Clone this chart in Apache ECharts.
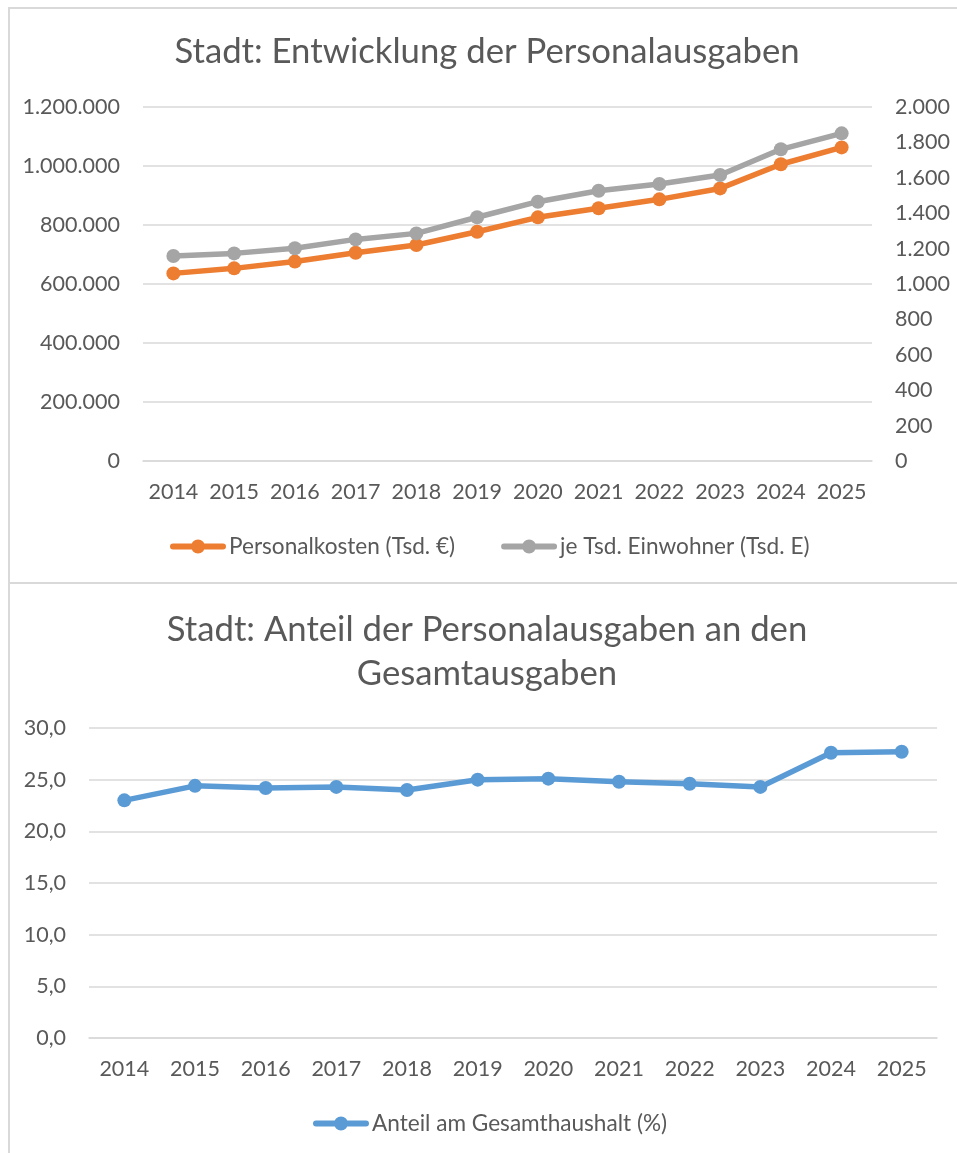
<!DOCTYPE html>
<html>
<head>
<meta charset="utf-8">
<script src="https://cdn.jsdelivr.net/npm/echarts@6/dist/echarts.min.js"></script>
<style>
html,body{margin:0;padding:0;background:#fff;}
#c{width:957px;height:1153px;}
</style>
</head>
<body>
<div id="c"></div>
<script>
// ---- data ----
const years = ['2014','2015','2016','2017','2018','2019','2020','2021','2022','2023','2024','2025'];
const personalkosten = [636000, 653000, 676000, 706000, 732000, 777000, 826000, 857000, 887000, 924000, 1006000, 1063000];
const jeTsdEinwohner = [1158, 1173, 1202, 1252, 1286, 1377, 1465, 1527, 1565, 1616, 1761, 1851];
const anteil = [23.0, 24.4, 24.2, 24.3, 24.0, 25.0, 25.1, 24.8, 24.6, 24.3, 27.6, 27.7];
const seriesNames = ['Personalkosten (Tsd. €)', 'je Tsd. Einwohner (Tsd. E)', 'Anteil am Gesamthaushalt (%)'];
const titles = ['Stadt: Entwicklung der Personalausgaben', 'Stadt: Anteil der Personalausgaben an den\nGesamtausgaben'];

const FONT = 'Lato';
const TXT = '#595959';
const GRID = '#d9d9d9';
const LBL = 21.5;
const LEG = 22.6;
const TTL = 34.7;
// legend icon: thick rounded line with a circle marker in the middle
const LEGEND_ICON = 'path://M3,4 H53 A3,3 0 0,1 53,10 H3 A3,3 0 0,1 3,4 Z M21,7 A7,7 0 1,1 35,7 A7,7 0 1,1 21,7 Z';

function fmtInt(v){ return String(Math.round(v)).replace(/\B(?=(\d{3})+(?!\d))/g, '.'); }
function fmtDec(v){ return v.toFixed(1).replace('.', ','); }

const chart = echarts.init(document.getElementById('c'), null, {renderer:'canvas'});

const axisLabelBase = {color: TXT, fontFamily: FONT, fontSize: LBL};
const legendText = {color:TXT, fontFamily:FONT, fontSize:LEG, padding:[0,0,0,-2]};

const option = {
  animation: false,
  textStyle: {fontFamily: FONT},
  graphic: [
    {type:'rect', shape:{x:9, y:8, width:970, height:575}, style:{fill:'none', stroke:GRID, lineWidth:2}, silent:true, z:-1},
    {type:'rect', shape:{x:9, y:583, width:970, height:590}, style:{fill:'none', stroke:GRID, lineWidth:2}, silent:true, z:-1}
  ],
  title: [
    {text: titles[0], left: 487, top: 34, textAlign:'center', padding:0,
     textStyle:{fontFamily:FONT, fontSize:TTL, fontWeight:'normal', color:TXT}},
    {text: titles[1], left: 487, top: 608, textAlign:'center', padding:0,
     textStyle:{fontFamily:FONT, fontSize:TTL, fontWeight:'normal', color:TXT, lineHeight:44}}
  ],
  legend: [
    {data:[{name:seriesNames[0], icon:LEGEND_ICON}, {name:seriesNames[1], icon:LEGEND_ICON}],
     left:170, top:535, itemWidth:56, itemHeight:14, itemGap:46, padding:0, textStyle:legendText},
    {data:[{name:seriesNames[2], icon:LEGEND_ICON}],
     left:313, top:1112, itemWidth:56, itemHeight:14, padding:0, textStyle:legendText}
  ],
  grid: [
    {left:143, right:85, top:107, height:354},
    {left:89, right:20, top:728, height:310}
  ],
  xAxis: [
    {type:'category', gridIndex:0, data:years, boundaryGap:true,
     axisTick:{show:false}, axisLine:{show:true, lineStyle:{color:GRID, width:1.5}},
     axisLabel:Object.assign({margin:20, interval:0}, axisLabelBase)},
    {type:'category', gridIndex:1, data:years, boundaryGap:true,
     axisTick:{show:false}, axisLine:{show:true, lineStyle:{color:GRID, width:1.5}},
     axisLabel:Object.assign({margin:20, interval:0}, axisLabelBase)}
  ],
  yAxis: [
    {type:'value', gridIndex:0, min:0, max:1200000, interval:200000, position:'left',
     axisLine:{show:false}, axisTick:{show:false},
     splitLine:{show:true, lineStyle:{color:GRID, width:1.5}},
     axisLabel:Object.assign({margin:23, formatter:fmtInt}, axisLabelBase)},
    {type:'value', gridIndex:0, min:0, max:2000, interval:200, position:'right',
     axisLine:{show:false}, axisTick:{show:false}, splitLine:{show:false},
     axisLabel:Object.assign({margin:23, formatter:fmtInt}, axisLabelBase)},
    {type:'value', gridIndex:1, min:0, max:30, interval:5, position:'left',
     axisLine:{show:false}, axisTick:{show:false},
     splitLine:{show:true, lineStyle:{color:GRID, width:1.5}},
     axisLabel:Object.assign({margin:23, formatter:fmtDec}, axisLabelBase)}
  ],
  series: [
    {name:seriesNames[0], type:'line', xAxisIndex:0, yAxisIndex:0, data:personalkosten,
     symbol:'circle', symbolSize:14, color:'#ED7D31',
     lineStyle:{width:5.5, color:'#ED7D31', cap:'round', join:'round'}, itemStyle:{color:'#ED7D31'}},
    {name:seriesNames[1], type:'line', xAxisIndex:0, yAxisIndex:1, data:jeTsdEinwohner,
     symbol:'circle', symbolSize:14, color:'#A5A5A5',
     lineStyle:{width:5.5, color:'#A5A5A5', cap:'round', join:'round'}, itemStyle:{color:'#A5A5A5'}},
    {name:seriesNames[2], type:'line', xAxisIndex:1, yAxisIndex:2, data:anteil,
     symbol:'circle', symbolSize:14, color:'#5B9BD5',
     lineStyle:{width:5.5, color:'#5B9BD5', cap:'round', join:'round'}, itemStyle:{color:'#5B9BD5'}}
  ]
};
chart.setOption(option);
</script>
</body>
</html>
